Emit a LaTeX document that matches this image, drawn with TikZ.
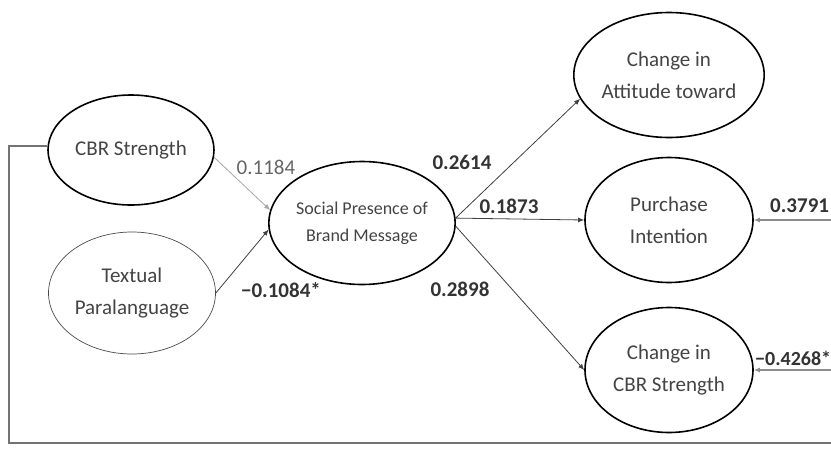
\documentclass[tikz,border=0pt]{standalone}
\usepackage{fontspec}
\setmainfont{Carlito}
\usetikzlibrary{arrows.meta,shapes.geometric}
\definecolor{txt}{HTML}{444444}
\definecolor{lbl}{HTML}{333333}
\tikzset{
  lv/.style={draw=black, line width=1.6pt, ellipse, inner sep=0pt, text=txt, align=center},
  bigtxt/.style={font=\fontsize{21}{32}\selectfont},
  path/.style={draw=black!75, line width=0.8pt, -{Latex[length=6pt,width=5pt]}},
  lab/.style={text=lbl, font=\fontsize{21}{24}\selectfont\bfseries, inner sep=0pt},
}
\begin{document}
\begin{tikzpicture}[x=1pt,y=-1pt]
\useasboundingbox[fill=white] (0,0) rectangle (831,448);
% latent variables
\node[lv, bigtxt, minimum width=166pt, minimum height=110pt] (cbr) at (131,150) {CBR Strength};
\node[lv, bigtxt, draw=black!70, line width=0.7pt, minimum width=167pt, minimum height=122pt] (tp) at (132,293) {Textual\\Paralanguage};
\node[lv, font=\fontsize{18}{27}\selectfont, minimum width=169pt, minimum height=123pt] (sp) at (362,223) {Social Presence of\\Brand Message};
\node[lv, bigtxt, minimum width=168pt, minimum height=125pt] (att) at (669,75) {Change in\\Attitude toward};
\node[lv, bigtxt, minimum width=168pt, minimum height=125pt] (pi) at (669,220) {Purchase\\Intention};
\node[lv, bigtxt, minimum width=168pt, minimum height=125pt] (ccbr) at (669,370) {Change in\\CBR Strength};
% paths into social presence
\draw[path, draw=black!35] (cbr.-5) -- (sp.172);
\draw[path] (tp.east) -- (sp.184);
\node[lab, font=\fontsize{21}{24}\selectfont, text=black!60] (l1) at (266,167) {0.1184};
\node[lab] (l2) at (281,290) {\textminus0.1084*};
% outgoing paths
\draw[path] (sp.3) -- (att.195);
\draw[path] (sp.3) -- (pi.west);
\draw[path] (sp.-2) -- (ccbr.west);
\node[lab] (l3) at (462,162) {0.2614};
\node[lab] (l4) at (509,206) {0.1873};
\node[lab] (l5) at (460,289) {0.2898};
% feedback lines
\coordinate (c1) at (9,146);
\coordinate (c2) at (9,443);
\coordinate (c3) at (845,443);
\draw[black!55, line width=1.4pt] (cbr.west |- c1) -- (c1) -- (c2) -- (c3);
\coordinate (r1) at (845,220);
\coordinate (r2) at (845,370);
\draw[path, draw=black!45, line width=1.6pt] (r1) -- (pi.east);
\draw[path, draw=black!45, line width=1.6pt] (r2) -- (ccbr.east);
\node[lab, anchor=west] (l6) at (770,206) {0.3791};
\node[lab, anchor=west, font=\fontsize{20}{24}\selectfont\bfseries] (l7) at (755,358) {\textminus0.4268*};
\end{tikzpicture}
\end{document}
